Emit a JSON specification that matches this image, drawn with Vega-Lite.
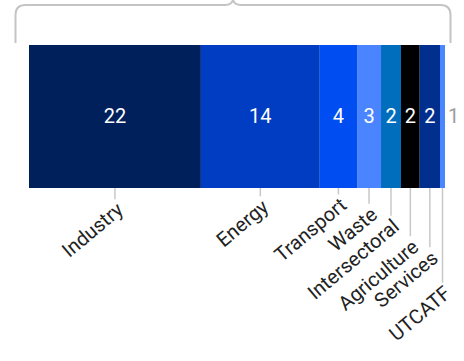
{
  "$schema": "https://vega.github.io/schema/vega-lite/v6.json",
  "width": 416,
  "height": 143,
  "autosize": "none",
  "padding": {"left": 29, "top": 45, "right": 19, "bottom": 173},
  "background": "white",
  "config": {"view": {"stroke": null}},
  "data": {
    "values": [
      {"order": 1, "category": "Industry", "value": 20.66, "label": 22, "drop": 12},
      {"order": 2, "category": "Energy", "value": 14.29, "label": 14, "drop": 9},
      {"order": 3, "category": "Transport", "value": 4.48, "label": 4, "drop": 7},
      {"order": 4, "category": "Waste", "value": 2.88, "label": 3, "drop": 17},
      {"order": 5, "category": "Intersectoral", "value": 2.4, "label": 2, "drop": 30},
      {"order": 6, "category": "Agriculture", "value": 2.25, "label": 2, "drop": 52},
      {"order": 7, "category": "Services", "value": 2.44, "label": 2, "drop": 64},
      {"order": 8, "category": "UTCATF", "value": 0.6, "label": 1, "drop": 102}
    ]
  },
  "transform": [
    {"stack": "value", "groupby": [], "sort": [{"field": "order", "order": "ascending"}], "as": ["x0", "x1"]},
    {"calculate": "(datum.x0 + datum.x1) / 2", "as": "mid"}
  ],
  "layer": [
    {
      "mark": {"type": "bar"},
      "encoding": {
        "x": {"field": "x0", "type": "quantitative", "scale": {"nice": false, "zero": true}, "axis": null},
        "x2": {"field": "x1"},
        "y": {"value": 0},
        "y2": {"value": "height"},
        "color": {
          "field": "category",
          "type": "nominal",
          "scale": {
            "domain": ["Industry", "Energy", "Transport", "Waste", "Intersectoral", "Agriculture", "Services", "UTCATF"],
            "range": ["#00205C", "#003DC2", "#004DF2", "#4A84FF", "#006EBD", "#000000", "#002F8E", "#4A86FF"]
          },
          "legend": null
        }
      }
    },
    {
      "transform": [{"filter": "datum.value >= 1"}],
      "mark": {"type": "text", "font": "Roboto", "fontSize": 20, "color": "#ffffff"},
      "encoding": {
        "x": {"field": "mid", "type": "quantitative"},
        "text": {"field": "label"}
      }
    },
    {
      "transform": [{"filter": "datum.value < 1"}],
      "mark": {"type": "text", "font": "Roboto", "fontSize": 20, "color": "#9e9e9e", "align": "left", "dx": 3},
      "encoding": {
        "x": {"field": "x1", "type": "quantitative"},
        "text": {"field": "label"}
      }
    },
    {
      "mark": {"type": "rule", "color": "#c8c8c8", "strokeWidth": 1.5},
      "encoding": {
        "x": {"field": "mid", "type": "quantitative"},
        "y": {"field": "drop", "type": "quantitative", "scale": {"domain": [0, 102], "range": [143, 245]}, "axis": null},
        "y2": {"datum": 0}
      }
    },
    {
      "mark": {"type": "text", "angle": 320, "align": "right", "baseline": "top", "font": "Roboto", "fontSize": 20, "color": "#222222", "dx": -1, "dy": 0},
      "encoding": {
        "x": {"field": "mid", "type": "quantitative"},
        "y": {"field": "drop", "type": "quantitative"},
        "text": {"field": "category"}
      }
    },
    {
      "transform": [
        {"aggregate": [{"op": "sum", "field": "value", "as": "total"}]},
        {"calculate": "datum.total / 2", "as": "center"}
      ],
      "mark": {
        "type": "point",
        "shape": "M-1,0.0989 L-1,-0.03 Q-1,-0.0759 -0.954,-0.0759 L-0.035,-0.0759 Q-0.008,-0.0759 0,-0.0989 Q0.008,-0.0759 0.035,-0.0759 L0.954,-0.0759 Q1,-0.0759 1,-0.03 L1,0.0989",
        "size": 189225,
        "filled": false,
        "color": "#c4c4c4",
        "strokeWidth": 2,
        "opacity": 1,
        "xOffset": -4
      },
      "encoding": {
        "x": {"field": "center", "type": "quantitative"},
        "y": {"value": -23.5}
      }
    }
  ]
}
